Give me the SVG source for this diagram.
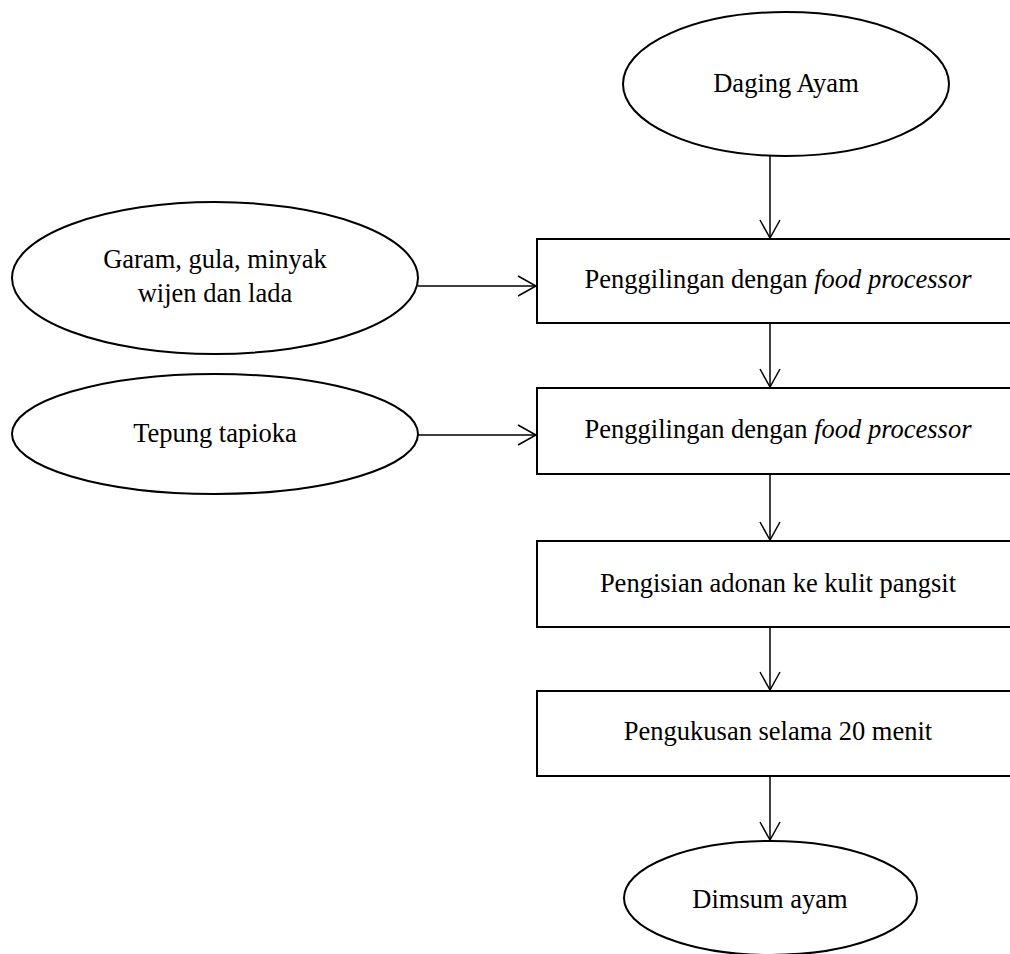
<svg xmlns="http://www.w3.org/2000/svg" width="1010" height="954" viewBox="0 0 1010 954">
  <style>
    .shape { fill: #ffffff; stroke: #000000; stroke-width: 2; }
    .lbl { font-family: "Liberation Serif", "Times New Roman", serif; font-size: 26.5px; fill: #000000; text-anchor: middle; }
    .it { font-style: italic; }
    .conn { stroke: #000000; stroke-width: 1.5; fill: none; marker-end: url(#arr); }
  </style>
  <defs>
    <marker id="arr" markerUnits="userSpaceOnUse" markerWidth="22" markerHeight="24" refX="20" refY="11" orient="auto" overflow="visible">
      <path d="M2,1 L20,11 L2,21" fill="none" stroke="#000000" stroke-width="1.5"/>
    </marker>
  </defs>
  <rect width="1010" height="954" fill="#ffffff"/>

  <g id="connectors">
    <line class="conn" x1="770" y1="156" x2="770" y2="238"/>
    <line class="conn" x1="770" y1="323" x2="770" y2="387"/>
    <line class="conn" x1="770" y1="474" x2="770" y2="540"/>
    <line class="conn" x1="770" y1="627" x2="770" y2="690"/>
    <line class="conn" x1="770" y1="776" x2="770" y2="840"/>
    <line class="conn" x1="418" y1="286" x2="536" y2="286"/>
    <line class="conn" x1="418" y1="435" x2="536" y2="435"/>
  </g>

  <g id="daging-ayam">
    <ellipse class="shape" cx="786" cy="84" rx="163" ry="72"/>
    <text class="lbl" x="786" y="92">Daging Ayam</text>
  </g>

  <g id="garam">
    <ellipse class="shape" cx="215" cy="278" rx="203" ry="76"/>
    <text class="lbl" x="215" y="268">Garam, gula, minyak</text>
    <text class="lbl" x="215" y="302">wijen dan lada</text>
  </g>

  <g id="tepung">
    <ellipse class="shape" cx="215" cy="434" rx="203" ry="60"/>
    <text class="lbl" x="215" y="442">Tepung tapioka</text>
  </g>

  <g id="penggilingan-1">
    <rect class="shape" x="537" y="239" width="485" height="84"/>
    <text class="lbl" x="778" y="288">Penggilingan dengan <tspan class="it">food processor</tspan></text>
  </g>

  <g id="penggilingan-2">
    <rect class="shape" x="537" y="388" width="485" height="86"/>
    <text class="lbl" x="778" y="438">Penggilingan dengan <tspan class="it">food processor</tspan></text>
  </g>

  <g id="pengisian">
    <rect class="shape" x="537" y="541" width="485" height="86"/>
    <text class="lbl" x="778" y="592">Pengisian adonan ke kulit pangsit</text>
  </g>

  <g id="pengukusan">
    <rect class="shape" x="537" y="691" width="485" height="85"/>
    <text class="lbl" x="778" y="740">Pengukusan selama 20 menit</text>
  </g>

  <g id="dimsum-ayam">
    <ellipse class="shape" cx="770.5" cy="898" rx="146.5" ry="57"/>
    <text class="lbl" x="770" y="908">Dimsum ayam</text>
  </g>
</svg>
